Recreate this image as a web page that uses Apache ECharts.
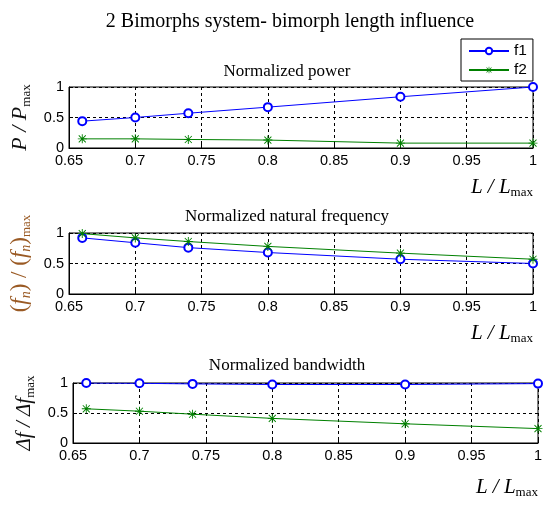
<!DOCTYPE html>
<html><head><meta charset="utf-8">
<script src="https://cdn.jsdelivr.net/npm/echarts@6/dist/echarts.min.js"></script>
<style>html,body{margin:0;padding:0;background:#fff}#c{width:550px;height:506px}</style>
</head><body><div id="c"></div>
<script>
// ---- data ----
const lengthRatio = [0.66, 0.70, 0.74, 0.80, 0.90, 1.00];
const powerF1 = [0.44, 0.50, 0.57, 0.67, 0.84, 1.00];
const powerF2 = [0.15, 0.15, 0.14, 0.13, 0.08, 0.08];
const freqF1  = [0.92, 0.84, 0.76, 0.68, 0.57, 0.50];
const freqF2  = [0.99, 0.92, 0.86, 0.78, 0.67, 0.57];
const bwF1    = [1.00, 0.995, 0.985, 0.975, 0.975, 0.99];
const bwF2    = [0.57, 0.53, 0.48, 0.41, 0.32, 0.24];
const xTicks  = [0.65, 0.70, 0.75, 0.80, 0.85, 0.90, 0.95, 1.00];
const yTicks  = [0, 0.5, 1];
const seriesNames = ['f1', 'f2'];
const mainTitle = '2 Bimorphs system- bimorph length influence';
const subTitles = ['Normalized power', 'Normalized natural frequency', 'Normalized bandwidth'];

// ---- styling ----
const SERIF = 'Liberation Serif, Times New Roman, serif';
const SANS = 'Liberation Sans, Arial, sans-serif';
const BLUE = '#0000ff', GREEN = '#008000';
const STAR = 'path://M9 0L11 0L11 20L9 20Z M0 9L20 9L20 11L0 11Z M2.9 1.5L18.5 17.1L17.1 18.5L1.5 2.9Z M17.1 1.5L18.5 2.9L2.9 18.5L1.5 17.1Z';

function richStyles(color, big) {
  const f = big || 21;
  return {
    i: {fontFamily: SERIF, fontStyle: 'italic', fontSize: f, color: color, lineHeight: f + 3},
    p: {fontFamily: SERIF, fontSize: f, color: color, lineHeight: f + 3},
    s: {fontFamily: SERIF, fontSize: 13, color: color, lineHeight: 8, verticalAlign: 'bottom'},
    n: {fontFamily: SERIF, fontStyle: 'italic', fontSize: 14, color: color, lineHeight: 10, verticalAlign: 'bottom'}
  };
}

const grids = [
  {left: 69, right: 17, top: 87, height: 61},
  {left: 69, right: 17, top: 233, height: 61},
  {left: 73, right: 12, top: 383, height: 60}
].map(g => Object.assign({show: true, borderColor: '#000', borderWidth: 1, backgroundColor: '#fff'}, g));

const xStep = +(xTicks[1] - xTicks[0]).toFixed(2);
const yStep = yTicks[1] - yTicks[0];
const fmt = v => String(+(+v).toFixed(2));
const xNamePad = [27, 27, 32];

const xAxes = grids.map((g, i) => ({
  type: 'value', gridIndex: i,
  min: xTicks[0], max: xTicks[xTicks.length - 1], interval: xStep,
  name: '{i|L / L}{s|max}', nameLocation: 'end', nameGap: 0,
  nameTextStyle: {align: 'right', verticalAlign: 'top', padding: [xNamePad[i], 0, 0, 0], rich: richStyles('#000')},
  axisLine: {show: true, lineStyle: {color: '#000', width: 1}},
  axisTick: {show: true, inside: true, length: 4, lineStyle: {color: '#000'}},
  axisLabel: {formatter: fmt, color: '#000', fontFamily: SANS, fontSize: 14.5, margin: 5, showMinLabel: true, showMaxLabel: true},
  splitLine: {show: true, lineStyle: {color: '#000', type: [3, 3], width: 1}}
}));

const yNames = [
  {text: '{i|P / P}{s|max}', color: '#111', size: 22},
  {text: '{p|(}{i|f}{n|n}{p|) / (}{i|f}{n|n}{p|)}{s|max}', color: '#9a5a24', size: 23},
  {text: '{i|Δf / Δf}{s|max}', color: '#111', size: 21}
];

const yAxes = grids.map((g, i) => ({
  type: 'value', gridIndex: i,
  min: yTicks[0], max: yTicks[yTicks.length - 1], interval: yStep,
  name: yNames[i].text, nameLocation: 'middle', nameRotate: 90, nameGap: 34,
  nameTextStyle: {rich: richStyles(yNames[i].color, yNames[i].size)},
  axisLine: {show: true, lineStyle: {color: '#000', width: 1}},
  axisTick: {show: true, inside: true, length: 4, lineStyle: {color: '#000'}},
  axisLabel: {formatter: fmt, color: '#000', fontFamily: SANS, fontSize: 14.5, margin: 5},
  splitLine: {show: true, lineStyle: {color: '#000', type: [3, 3], width: 1}}
}));

const panelData = [[powerF1, powerF2], [freqF1, freqF2], [bwF1, bwF2]];
const series = [];
panelData.forEach((pair, gi) => {
  pair.forEach((vals, si) => {
    series.push({
      type: 'line', name: seriesNames[si], xAxisIndex: gi, yAxisIndex: gi,
      data: lengthRatio.map((x, k) => [x, vals[k]]),
      symbol: si === 0 ? 'emptyCircle' : STAR,
      symbolSize: si === 0 ? 8 : 9,
      showAllSymbol: true,
      lineStyle: {color: si === 0 ? BLUE : GREEN, width: 1},
      itemStyle: {color: si === 0 ? BLUE : GREEN, borderWidth: 1},
      animation: false, z: 3
    });
  });
});

const titleTops = [63, 208, 357];
const titles = [{
  text: mainTitle, left: 290, top: 12, textAlign: 'center', padding: 0,
  textStyle: {fontFamily: SERIF, fontSize: 20, fontWeight: 'normal', color: '#000'}
}].concat(subTitles.map((t, i) => ({
  text: t, left: 287, top: titleTops[i], textAlign: 'center', padding: 0,
  textStyle: {fontFamily: SERIF, fontSize: 17, fontWeight: 'normal', color: '#000'}
})));

const chart = echarts.init(document.getElementById('c'), null, {renderer: 'canvas'});
chart.setOption({
  animation: false,
  backgroundColor: '#fff',
  title: titles,
  legend: {
    data: seriesNames, left: 461, top: 39, orient: 'vertical',
    itemWidth: 40, itemHeight: 8, itemGap: 3, padding: [4, 6, 3, 7],
    borderColor: '#000', borderWidth: 1, backgroundColor: '#fff',
    textStyle: {fontFamily: SANS, fontSize: 15.5, color: '#000'},
    selectedMode: false
  },
  grid: grids,
  xAxis: xAxes,
  yAxis: yAxes,
  series: series
});
</script></body></html>
